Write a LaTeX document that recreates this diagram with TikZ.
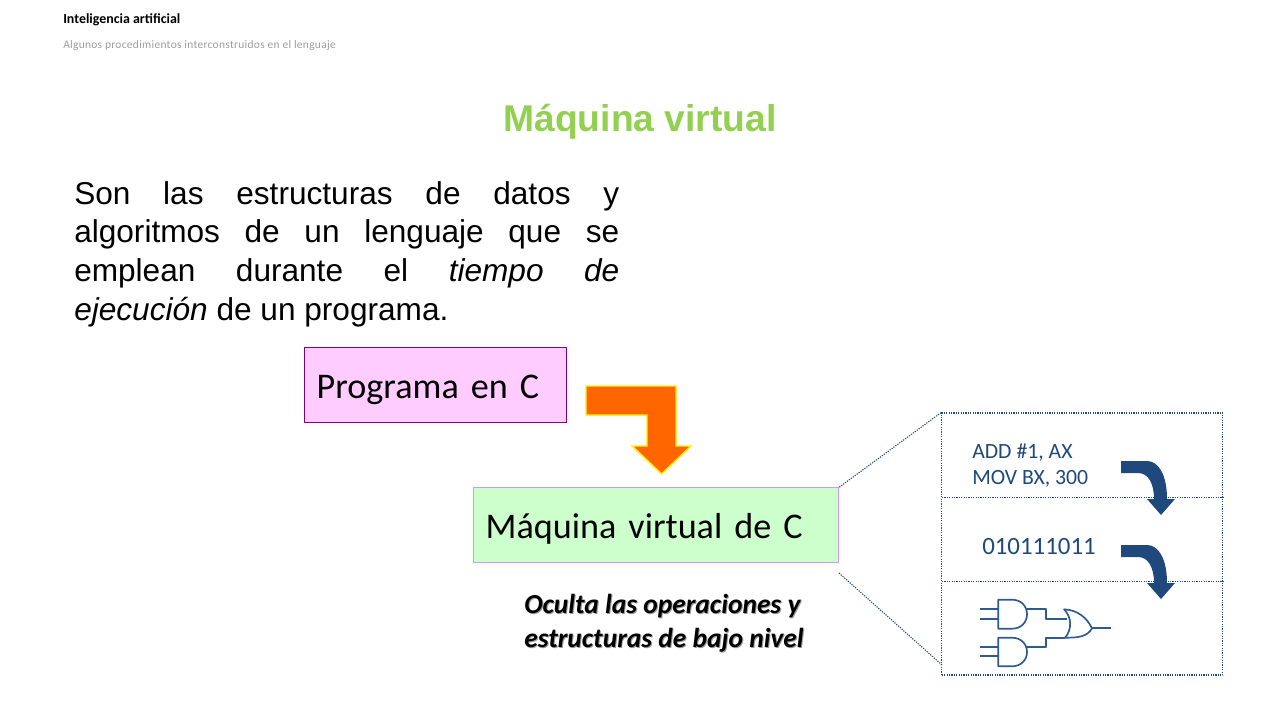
\documentclass[tikz,border=0pt]{standalone}
\usepackage{fontspec}
\setmainfont{Liberation Sans}
\newfontfamily\carl{Carlito}
\newfontfamily\carlsp[LetterSpace=2.5]{Carlito}
\definecolor{navy}{HTML}{1F497D}
\definecolor{navyline}{HTML}{2F5A8F}
\definecolor{titlegreen}{HTML}{92D050}
\definecolor{pinkfill}{HTML}{FFCCFF}
\definecolor{pinkline}{HTML}{800080}
\definecolor{greenfill}{HTML}{CCFFCC}
\definecolor{greenline}{HTML}{CC99FF}
\definecolor{orangefill}{HTML}{FF6600}
\tikzset{
  x=0.75pt,y=-0.75pt,
  txt/.style={inner sep=0pt,anchor=base west,align=left},
  bigbox/.style={draw,line width=0.85pt,inner xsep=9pt,inner ysep=0pt,minimum height=56.25pt,align=left,font=\carl\fontsize{27.1}{30}\selectfont},
  dots/.style={draw=navy,line width=0.8pt,dash pattern=on 0.9pt off 0.9pt},
  gate/.style={draw=navyline,line width=1.25pt,line join=round},
  bluebent/.style={fill=navy,draw=none},
}
\begin{document}
\begin{tikzpicture}
\useasboundingbox (0,0) rectangle (1280,720);
\fill[white] (0,0) rectangle (1280,720);
\node[txt] (hdr) at (63,23.5) {\carl\bfseries\fontsize{10.45}{12}\selectfont Inteligencia artificial};
\node[txt,text=black!38] (sub) at (63,48.5) {\carlsp\fontsize{8.6}{10}\selectfont Algunos procedimientos interconstruidos en el lenguaje};
\node[inner sep=0pt,text=titlegreen,font=\bfseries\fontsize{27.95}{32}\selectfont] (title) at (640,121.5) {Máquina virtual};
\node[inner sep=0pt,anchor=north west,text width=408.75pt,align=justify,font=\fontsize{23.7}{28.9}\selectfont] (body) at (74,181.3)
 {Son las estructuras de datos y\linebreak algoritmos de un lenguaje que se\linebreak emplean durante el \textit{tiempo de}\linebreak \textit{ejecución} de un programa.};
% boxes
\node[bigbox,fill=pinkfill,draw=pinkline,text width=178.5pt] (prog) at (435.7,385.2) {\raisebox{-9.6pt}[0pt][0pt]{Programa en C}};
\node[bigbox,fill=greenfill,draw=greenline,text width=255.75pt] (vm) at (656.2,525.2) {\raisebox{-9.6pt}[0pt][0pt]{Máquina virtual de C}};
% orange arrow
\draw[fill=orangefill,draw=yellow,line width=1.1pt,line join=miter]
  (586,386) -- (676,386) -- (676,446) -- (691,446) -- (661.5,474) -- (632,446) -- (647,446) -- (647,415) -- (586,415) -- cycle;
\node[txt,text=black!40] (note2) at (525,614.5) {\carl\bfseries\itshape\fontsize{20.6}{24}\selectfont Oculta las operaciones y};
\node[txt] (note1) at (524,613.5) {\carl\bfseries\itshape\fontsize{20.6}{24}\selectfont Oculta las operaciones y};
\node[txt,text=black!40] (note4) at (525,648) {\carl\bfseries\itshape\fontsize{20.6}{24}\selectfont estructuras de bajo nivel};
\node[txt] (note3) at (524,647) {\carl\bfseries\itshape\fontsize{20.6}{24}\selectfont estructuras de bajo nivel};
% dotted frame
\node[dots,inner sep=0pt,minimum width=210.75pt,minimum height=196.5pt] (frame) at (1082.3,544) {};
\coordinate (div1l) at (942,497.7); \coordinate (div1r) at (1223,497.7);
\coordinate (div2l) at (942,581.7); \coordinate (div2r) at (1223,581.7);
\draw[dots] (div1l) -- (div1r);
\draw[dots] (div2l) -- (div2r);
\coordinate (fromlow) at (839,573); \coordinate (tolow) at (942,665);
\draw[dots] (vm.north east) -- (frame.north west);
\draw[dots] (fromlow) -- (tolow);
% labels
\node[txt,text=navy] (asm1) at (972,458) {\carl\fontsize{16.3}{18}\selectfont ADD \#1, AX};
\node[txt,text=navy] (asm2) at (972,484) {\carl\fontsize{16.3}{18}\selectfont MOV BX, 300};
\node[txt,text=navy] (bin) at (982,554) {\carl\fontsize{18.65}{20}\selectfont 010111011};
% bent arrows
\foreach \d in {0,84}{
\fill[bluebent] (1121,461+\d) -- (1147,461+\d) .. controls (1158,461+\d) and (1167,474+\d) .. (1167,499+\d)
  -- (1175,499+\d) -- (1161,515+\d) -- (1147,499+\d) -- (1154,499+\d) .. controls (1154,483+\d) and (1148,473+\d) .. (1138,473+\d) -- (1121,473+\d) -- cycle;
}
% gates
\draw[gate] (998.3,599.7) -- (1012,599.7) .. controls (1021,599.7) and (1027,606) .. (1027,614.2) .. controls (1027,622.4) and (1021,628.7) .. (1012,628.7) -- (998.3,628.7) -- cycle;
\draw[gate] (998.3,637.7) -- (1012,637.7) .. controls (1021,637.7) and (1027,644) .. (1027,652) .. controls (1027,660) and (1021,666.3) .. (1012,666.3) -- (998.3,666.3) -- cycle;
\draw[gate] (980,609.3) -- (998.3,609.3);
\draw[gate] (980,618.7) -- (998.3,618.7);
\draw[gate] (980,647) -- (998.3,647);
\draw[gate] (980,656.3) -- (998.3,656.3);
\draw[gate] (1027,609.3) -- (1046,609.3) -- (1046,618.7) -- (1067,618.7);
\draw[gate] (1027,647) -- (1046,647) -- (1046,637.7) -- (1065,637.7);
\draw[gate] (1064,609.3) .. controls (1078,610) and (1087,618) .. (1092,628.3) .. controls (1087,637) and (1078,637.7) .. (1065,637.7) .. controls (1072,630) and (1072,617) .. (1064,609.3) -- cycle;
\draw[gate] (1092,628.3) -- (1110.7,628.3);
\end{tikzpicture}
\end{document}
